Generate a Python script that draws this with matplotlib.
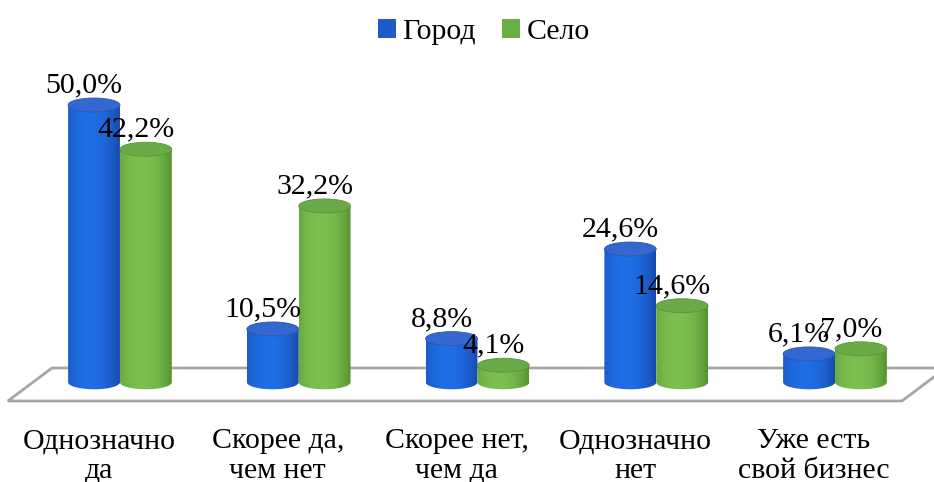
import numpy as np
import matplotlib
matplotlib.use("Agg")
import matplotlib.pyplot as plt
from matplotlib.path import Path
from matplotlib.patches import PathPatch, Ellipse, Polygon, Patch

categories = ['Однозначно\nда', 'Скорее да,\nчем нет', 'Скорее нет,\nчем да',
              'Однозначно\nнет', 'Уже есть\nсвой бизнес']
gorod = [50.0, 10.5, 8.8, 24.6, 6.1]
selo = [42.2, 32.2, 4.1, 14.6, 7.0]
series_names = ['Город', 'Село']

plt.rcParams['font.family'] = ['Liberation Serif', 'DejaVu Serif']

FS = 21.5
fig = plt.figure(figsize=(9.34, 4.82), dpi=100)
ax = fig.add_axes([0, 0, 1, 1])
ax.set_xlim(-0.671, 4.554)
ax.set_ylim(-16.49, 68.52)
ax.axis('off')

# floor
floor = Polygon([(-0.627, -2.2), (4.375, -2.2), (4.62, 3.62), (-0.380, 3.62)],
                closed=True, facecolor='white', edgecolor='#A6A6A6', lw=2.0, zorder=1)
ax.add_patch(floor)

bw = 0.29
eh = 2.47
base = 1.1

styles = [
    dict(dark=np.array([0x17, 0x3F, 0x98]) / 255, light=np.array([0x1F, 0x6E, 0xE6]) / 255,
         top='#3468D0', topedge='#2A57B0'),
    dict(dark=np.array([0x4A, 0x86, 0x28]) / 255, light=np.array([0x7C, 0xC0, 0x50]) / 255,
         top='#6BAA48', topedge='#5A9438'),
]


def gradient(st, n=200):
    t = np.linspace(0, 1, n)
    prof = np.clip(1 - ((t - 0.42) / 0.62) ** 2, 0, 1) ** 0.8
    cols = st['dark'][None, :] + (st['light'] - st['dark'])[None, :] * prof[:, None]
    return cols[None, :, :]


def cylinder(xc, v, st, z):
    x0, x1 = xc - bw / 2, xc + bw / 2
    th = np.linspace(0, np.pi, 60)
    arc_x = xc + (bw / 2) * np.cos(th)
    arc_y = base - (eh / 2) * np.sin(th)
    verts = [(x0, v), (x1, v)] + list(zip(arc_x, arc_y)) + [(x0, v)]
    codes = [Path.MOVETO] + [Path.LINETO] * (len(verts) - 2) + [Path.CLOSEPOLY]
    clip = PathPatch(Path(verts, codes), transform=ax.transData, facecolor='none', edgecolor='none')
    im = ax.imshow(gradient(st), extent=(x0, x1, base - eh, v), aspect='auto',
                   interpolation='bilinear', zorder=z)
    im.set_clip_path(clip)
    top = Ellipse((xc, v), bw, eh, facecolor=st['top'], edgecolor=st['topedge'], lw=0.6, zorder=z + 0.1)
    ax.add_patch(top)


def fmt(v):
    return f"{v:.1f}%".replace('.', ',')


x = np.arange(len(categories))
for i in range(len(categories)):
    for j, vals in enumerate([gorod, selo]):
        xc = x[i] + (j - 0.5) * bw
        cylinder(xc, vals[i], styles[j], 3 + i + j * 0.3)
for i in range(len(categories)):
    for j, vals in enumerate([gorod, selo]):
        xc = x[i] + (j - 0.5) * bw
        ax.text(xc - 0.056, vals[i] + 2.2, fmt(vals[i]), ha='center', va='baseline',
                fontsize=FS, color='black', zorder=20)
    ax.text(x[i] - 0.117, -11.9, categories[i], ha='center', va='center', fontsize=FS,
            linespacing=1.17, color='black')

handles = [Patch(facecolor='#1F5BC8', edgecolor='none'), Patch(facecolor='#6AAE45', edgecolor='none')]
fig.legend(handles, series_names, loc='upper center', bbox_to_anchor=(0.518, 1.0), ncol=2,
           frameon=False, fontsize=FS, handlelength=0.6, handleheight=0.6,
           handletextpad=0.2, columnspacing=0.9, borderaxespad=0.25)

fig.savefig('out.png', dpi=100)
